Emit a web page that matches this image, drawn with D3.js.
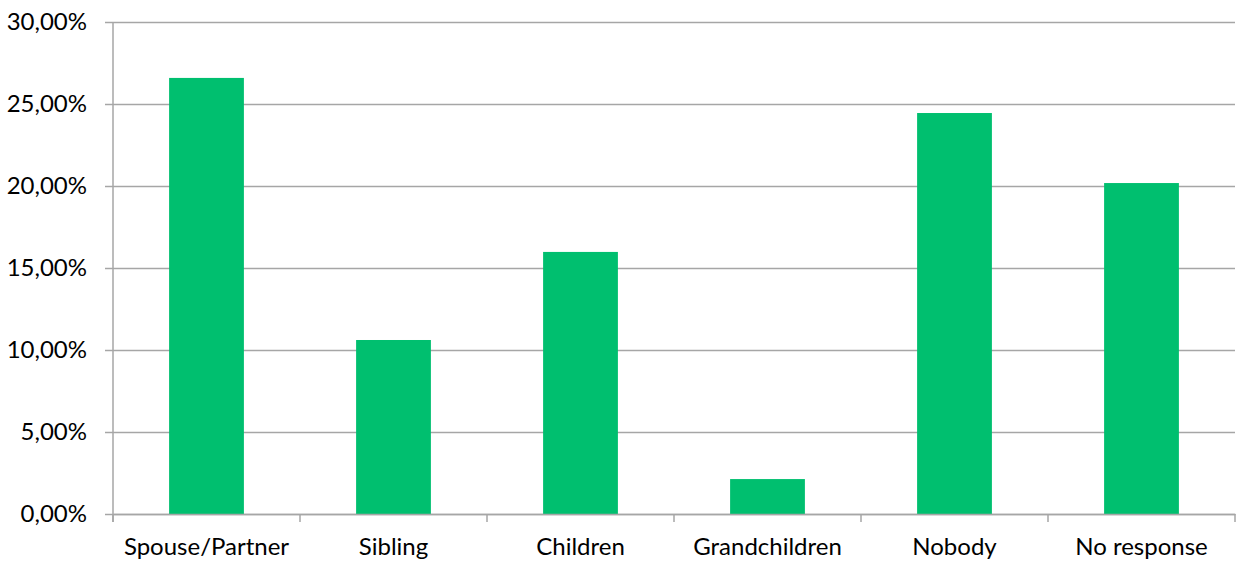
<!DOCTYPE html>
<html>
<head>
<meta charset="utf-8">
<script src="https://cdn.jsdelivr.net/npm/d3@7"></script>
<style>
  body { margin: 0; background: #fff; }
  text { font-family: Lato, "Open Sans", sans-serif; fill: #000; }
</style>
</head>
<body>
<svg id="chart" width="1237" height="579"></svg>
<script>
// data
var categories = ["Spouse/Partner", "Sibling", "Children", "Grandchildren", "Nobody", "No response"];
var values = [26.59, 10.61, 15.98, 2.13, 24.45, 20.18];
var yTicks = [0, 5, 10, 15, 20, 25, 30];

var svg = d3.select("#chart"),
    margin = {top: 22, right: 2, bottom: 65, left: 113},
    width = 1237 - margin.left - margin.right,
    height = 579 - margin.top - margin.bottom;

var g = svg.append("g").attr("transform", "translate(" + margin.left + "," + margin.top + ")");

var x = d3.scaleBand().domain(categories).range([0, width]).padding(0);
var y = d3.scaleLinear().domain([0, 30]).range([height, 0]);

var fmt = function(d) { return d.toFixed(2).replace(".", ",") + "%"; };

// gridlines + y labels
var yAxis = g.append("g")
    .call(d3.axisLeft(y).tickValues(yTicks).tickSize(-width - 8).tickFormat(fmt));
yAxis.select(".domain").remove();
yAxis.selectAll(".tick line")
    .attr("x1", -8)
    .attr("x2", width)
    .attr("stroke", "#a6a6a6")
    .attr("stroke-width", 1.5);
yAxis.selectAll(".tick text")
    .attr("x", -26)
    .attr("font-size", 24)
    .attr("font-family", "Lato, 'Open Sans', sans-serif");

// y axis line
g.append("line")
    .attr("x1", 0).attr("x2", 0)
    .attr("y1", y(30)).attr("y2", height + 8)
    .attr("stroke", "#a6a6a6").attr("stroke-width", 1.5);

// bars
var barW = x.bandwidth() * 0.4;
g.selectAll("rect.bar")
    .data(values)
    .enter().append("rect")
    .attr("class", "bar")
    .attr("x", function(d, i) { return x(categories[i]) + (x.bandwidth() - barW) / 2; })
    .attr("y", function(d) { return y(d); })
    .attr("width", barW)
    .attr("height", function(d) { return height - y(d); })
    .attr("fill", "#00bf6f");

// x axis
var xAxis = g.append("g")
    .attr("transform", "translate(0," + height + ")")
    .call(d3.axisBottom(x).tickSize(0).tickSizeOuter(0));
xAxis.select(".domain")
    .attr("stroke", "#a6a6a6").attr("stroke-width", 1.5);
xAxis.selectAll(".tick text")
    .attr("dy", 0)
    .attr("y", 41)
    .attr("font-size", 24)
    .attr("font-family", "Lato, 'Open Sans', sans-serif");

// category separators
var seps = d3.range(categories.length + 1);
g.selectAll("line.sep")
    .data(seps)
    .enter().append("line")
    .attr("class", "sep")
    .attr("x1", function(i) { return i * x.step(); })
    .attr("x2", function(i) { return i * x.step(); })
    .attr("y1", height)
    .attr("y2", height + 8)
    .attr("stroke", "#a6a6a6").attr("stroke-width", 1.5);
</script>
</body>
</html>
